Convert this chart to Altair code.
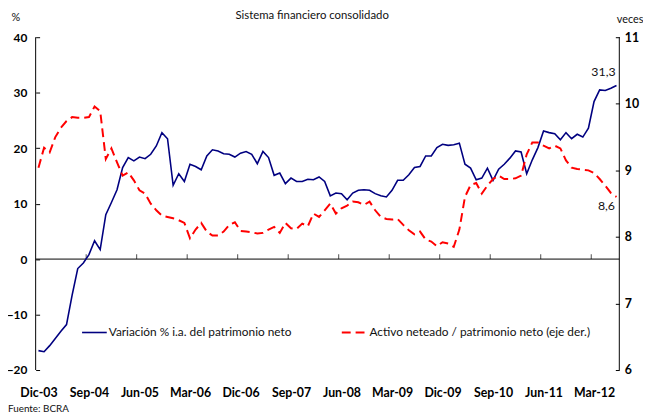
import altair as alt
import pandas as pd

# ---------------- data ----------------
tick_labels = ["Dic-03", "Sep-04", "Jun-05", "Mar-06", "Dic-06", "Sep-07",
               "Jun-08", "Mar-09", "Dic-09", "Sep-10", "Jun-11", "Mar-12"]

patrimonio = [
    -16.5, -16.7, -15.6, -14.3, -13.0, -11.8, -6.5, -1.7, -0.7, 0.8,
    3.3, 1.7, 8.0, 10.2, 12.5, 16.5, 18.3, 17.7, 18.4, 18.1,
    18.9, 20.4, 22.8, 21.7, 13.3, 15.4, 14.0, 17.1, 16.7, 16.1,
    18.6, 19.7, 19.5, 19.0, 18.9, 18.4, 19.1, 19.4, 18.9, 17.2,
    19.4, 18.3, 15.1, 15.5, 13.6, 14.6, 14.0, 14.0, 14.4, 14.3,
    14.8, 14.0, 11.4, 11.9, 11.8, 10.7, 11.9, 12.4, 12.5, 12.4,
    11.8, 11.4, 11.2, 12.4, 14.2, 14.2, 15.2, 16.5, 16.7, 18.6,
    18.6, 20.1, 20.7, 20.5, 20.6, 20.9, 17.1, 16.4, 14.3, 14.6,
    16.4, 14.2, 16.2, 17.1, 18.2, 19.5, 19.3, 15.4, 17.9, 20.1,
    23.1, 22.8, 22.6, 21.5, 22.8, 21.7, 22.5, 22.0, 23.6, 28.4,
    30.5, 30.4, 30.8, 31.3,
]

apalancamiento = [
    9.04, 9.34, 9.27, 9.50, 9.64, 9.74, 9.80, 9.79, 9.79, 9.80,
    9.96, 9.89, 9.17, 9.33, 9.12, 8.92, 8.97, 8.85, 8.70, 8.65,
    8.50, 8.40, 8.32, 8.30, 8.28, 8.25, 8.21, 7.98, 8.11, 8.21,
    8.08, 8.02, 8.02, 8.08, 8.18, 8.22, 8.09, 8.08, 8.07, 8.05,
    8.06, 8.11, 8.15, 8.06, 8.21, 8.13, 8.12, 8.20, 8.16, 8.35,
    8.30, 8.40, 8.50, 8.35, 8.43, 8.47, 8.53, 8.52, 8.48, 8.53,
    8.40, 8.30, 8.27, 8.26, 8.27, 8.18, 8.10, 8.04, 8.08, 7.96,
    7.93, 7.86, 7.92, 7.90, 7.85, 8.11, 8.60, 8.78, 8.81, 8.65,
    8.77, 8.87, 8.92, 8.87, 8.87, 8.88, 8.92, 9.24, 9.42, 9.42,
    9.37, 9.33, 9.37, 9.33, 9.15, 9.04, 9.02, 9.01, 9.00, 8.96,
    8.87, 8.77, 8.66, 8.60,
]

left_ticks = [-20, -10, 0, 10, 20, 30, 40]
right_ticks = [6, 7, 8, 9, 10, 11]

n = len(patrimonio)
df = pd.DataFrame({"i": list(range(n)), "blue": patrimonio, "red": apalancamiento})
bounds = pd.DataFrame({"b": [9 * k - 0.5 for k in range(1, 12)]})
one = pd.DataFrame({"a": [0]})

W, H = 591, 337
FONT = "Lato"
BLUE = "#000080"
RED = "#ff0000"

label_arr = "[" + ",".join("'" + s + "'" for s in tick_labels) + "]"
xscale = alt.Scale(domain=[-0.5, n - 0.5], nice=False, zero=False)

x_axis = alt.Axis(values=[9 * k for k in range(len(tick_labels))],
                  labelExpr=label_arr + "[round(datum.value/9)]",
                  domain=False, ticks=False, grid=False, title=None,
                  labelPadding=17, labelFont=FONT, labelFontSize=12.5,
                  labelFontWeight="bold", labelColor="black", orient="bottom")

lscale = alt.Scale(domain=[-20, 40], nice=False, zero=False)
rscale = alt.Scale(domain=[6, 11], nice=False, zero=False)

y_left_axis = alt.Axis(values=left_ticks, domain=False, tickSize=4, offset=-4,
                       tickColor="black", labelPadding=9, grid=False, title=None,
                       labelFont=FONT, labelFontSize=12, labelFontWeight="bold",
                       labelColor="black", orient="left")
y_right_axis = alt.Axis(values=right_ticks, orient="right", domain=False, tickSize=4,
                        offset=-4, tickColor="black", labelPadding=5, grid=False,
                        title=None, labelFont=FONT, labelFontSize=12.5,
                        labelFontWeight="bold", labelColor="black")

# ---------- left axis group ----------
blue_line = alt.Chart(df).mark_line(color=BLUE, strokeWidth=1.6).encode(
    x=alt.X("i:Q", scale=xscale, axis=x_axis),
    y=alt.Y("blue:Q", scale=lscale, axis=y_left_axis))

zero_line = alt.Chart(one).mark_rule(color="black", strokeWidth=1).encode(
    y=alt.YDatum(0, scale=lscale, axis=y_left_axis),
    x=alt.value(0), x2=alt.value(W))

x_ticks = alt.Chart(bounds).mark_tick(orient="vertical", size=5, thickness=1,
                                      color="black", yOffset=-2.5).encode(
    x=alt.X("b:Q", scale=xscale, axis=x_axis),
    y=alt.YDatum(0, scale=lscale, axis=y_left_axis))

left = alt.layer(zero_line, x_ticks, blue_line)

# ---------- right axis group ----------
red_line = alt.Chart(df).mark_line(color=RED, strokeWidth=2, strokeDash=[9, 5]).encode(
    x=alt.X("i:Q", scale=xscale, axis=x_axis),
    y=alt.Y("red:Q", scale=rscale, axis=y_right_axis))

right = alt.layer(red_line)

# ---------- frame lines, legend and texts ----------
def vrule(xv):
    return alt.Chart(one).mark_rule(color="black", strokeWidth=1).encode(
        x=alt.value(xv), y=alt.value(0), y2=alt.value(H))

def txt(s, xv, yv, size=12, align="left", baseline="middle", weight="normal", color="#111"):
    return alt.Chart(one).mark_text(text=s, font=FONT, fontSize=size, align=align,
                                    baseline=baseline, fontWeight=weight, color=color).encode(
        x=alt.value(xv), y=alt.value(yv))

leg_blue = alt.Chart(one).mark_rule(color=BLUE, strokeWidth=1.6).encode(
    x=alt.value(47), x2=alt.value(72), y=alt.value(299))
leg_red = alt.Chart(one).mark_rule(color=RED, strokeWidth=2, strokeDash=[9, 5]).encode(
    x=alt.value(310), x2=alt.value(337), y=alt.value(299))

extras = alt.layer(
    vrule(0), vrule(W),
    leg_blue, leg_red,
    txt("Variación % i.a. del patrimonio neto", 74, 299),
    txt("Activo neteado / patrimonio neto (eje der.)", 338, 299),
    txt("31,3", 575, 35, size=12.5, align="center"),
    txt("8,6", 578, 171, size=12.5, align="center"),
    txt("%", -20, -19, size=11, align="center"),
    txt("veces", 602, -17, size=11, align="center"),
    txt("Sistema financiero consolidado", 280, -27, size=11.5, align="center", baseline="top"),
    txt("Fuente: BCRA", -28, 377, size=10, align="left"),
)

chart = alt.layer(left, right, extras).resolve_scale(y="independent").properties(
    width=W, height=H,
    autosize=alt.AutoSizeParams(type="none"),
    padding={"left": 28, "top": 27, "right": 24, "bottom": 47},
).configure_view(stroke=None)

chart.save("out.html", embed_options={"renderer": "svg", "actions": False})
